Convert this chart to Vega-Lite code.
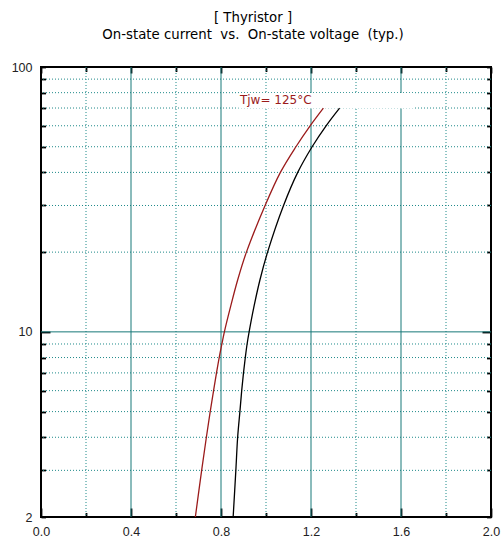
{
  "$schema": "https://vega.github.io/schema/vega-lite/v6.json",
  "autosize": {"type": "none"},
  "padding": {"left": 41, "top": 67, "right": 11, "bottom": 23},
  "width": 450,
  "height": 450,
  "background": "white",
  "config": {
    "font": "Liberation Sans",
    "view": {"stroke": "black", "strokeWidth": 2},
    "axis": {"domain": false, "grid": false, "labelFont": "Liberation Sans", "labelFontSize": 12.5, "labelColor": "#222222", "tickColor": "black", "tickWidth": 1.8}
  },
  "title": {
    "text": ["\u00a0\u00a0\u00a0\u00a0\u00a0\u00a0\u00a0\u00a0[ Thyristor ]", "On-state current \u00a0vs. \u00a0On-state voltage \u00a0(typ.)"],
    "fontSize": 13.3,
    "fontWeight": "normal",
    "font": "DejaVu Sans",
    "color": "black",
    "lineHeight": 17,
    "anchor": "middle",
    "dx": -13,
    "offset": 20
  },
  "datasets": {
    "curves": [
      {"T": "125", "V": 0.686, "I": 2},
      {"T": "125", "V": 0.714, "I": 3},
      {"T": "125", "V": 0.735, "I": 4},
      {"T": "125", "V": 0.752, "I": 5},
      {"T": "125", "V": 0.767, "I": 6},
      {"T": "125", "V": 0.780, "I": 7},
      {"T": "125", "V": 0.792, "I": 8},
      {"T": "125", "V": 0.804, "I": 9},
      {"T": "125", "V": 0.815, "I": 10},
      {"T": "125", "V": 0.842, "I": 12.4},
      {"T": "125", "V": 0.874, "I": 15.7},
      {"T": "125", "V": 0.913, "I": 20},
      {"T": "125", "V": 0.996, "I": 30},
      {"T": "125", "V": 1.064, "I": 40},
      {"T": "125", "V": 1.133, "I": 50},
      {"T": "125", "V": 1.196, "I": 60},
      {"T": "125", "V": 1.255, "I": 70},
      {"T": "25", "V": 0.854, "I": 2},
      {"T": "25", "V": 0.866, "I": 3},
      {"T": "25", "V": 0.874, "I": 4},
      {"T": "25", "V": 0.884, "I": 5},
      {"T": "25", "V": 0.892, "I": 6},
      {"T": "25", "V": 0.900, "I": 7},
      {"T": "25", "V": 0.908, "I": 8},
      {"T": "25", "V": 0.916, "I": 9},
      {"T": "25", "V": 0.925, "I": 10},
      {"T": "25", "V": 0.946, "I": 12.4},
      {"T": "25", "V": 0.973, "I": 15.7},
      {"T": "25", "V": 1.007, "I": 20},
      {"T": "25", "V": 1.078, "I": 30},
      {"T": "25", "V": 1.141, "I": 40},
      {"T": "25", "V": 1.205, "I": 50},
      {"T": "25", "V": 1.267, "I": 60},
      {"T": "25", "V": 1.327, "I": 70}
    ]
  },
  "resolve": {"axis": {"x": "independent", "y": "independent"}},
  "layer": [
    {
      "data": {"values": [{"v": 0.2}, {"v": 0.6}, {"v": 1.0}, {"v": 1.4}, {"v": 1.8}]},
      "mark": {"type": "rule", "color": "#1f8a8a", "strokeWidth": 1, "strokeDash": [1, 2]},
      "encoding": {
        "x": {"field": "v", "type": "quantitative", "scale": {"domain": [0, 2], "nice": false, "zero": false},
          "axis": {"orient": "bottom", "title": null,
            "values": [0, 0.2, 0.4, 0.6, 0.8, 1.0, 1.2, 1.4, 1.6, 1.8, 2.0],
            "format": ".1f",
            "labelExpr": "round(datum.value*10) % 4 == 0 ? datum.label : ''",
            "labelPadding": 17,
            "labelFlush": false,
            "labelOverlap": false,
            "tickSize": {"condition": {"test": "round(datum.value*10) % 4 == 0", "value": -9}, "value": -4.5}}}
      }
    },
    {
      "data": {"values": [{"v": 3}, {"v": 4}, {"v": 5}, {"v": 6}, {"v": 7}, {"v": 8}, {"v": 9}, {"v": 20}, {"v": 30}, {"v": 40}, {"v": 50}, {"v": 60}, {"v": 70}, {"v": 80}, {"v": 90}]},
      "mark": {"type": "rule", "color": "#1f8a8a", "strokeWidth": 1, "strokeDash": [1, 2]},
      "encoding": {
        "y": {"field": "v", "type": "quantitative", "scale": {"type": "log", "domain": [2, 100], "nice": false},
          "axis": {"orient": "left", "title": null,
            "values": [2, 3, 4, 5, 6, 7, 8, 9, 10, 20, 30, 40, 50, 60, 70, 80, 90, 100],
            "labelExpr": "(datum.value == 2 || datum.value == 10 || datum.value == 100) ? datum.value + '' : ''",
            "labelPadding": {"condition": {"test": "datum.value == 10", "value": 18}, "value": 13.5},
            "labelFlush": false,
            "labelOverlap": false,
            "tickSize": {"condition": {"test": "datum.value == 10", "value": -9}, "value": -4.5}}}
      }
    },
    {
      "data": {"values": [{"v": 0.4}, {"v": 0.8}, {"v": 1.2}, {"v": 1.6}]},
      "mark": {"type": "rule", "color": "#167878", "strokeWidth": 1},
      "encoding": {
        "x": {"field": "v", "type": "quantitative", "axis": null}
      }
    },
    {
      "data": {"values": [{"v": 10}]},
      "mark": {"type": "rule", "color": "#167878", "strokeWidth": 1},
      "encoding": {
        "y": {"field": "v", "type": "quantitative", "axis": null}
      }
    },
    {
      "data": {"values": [{"x1": 0.878, "x2": 1.662, "y1": 69.7, "y2": 79.8}]},
      "mark": {"type": "rect", "fill": "white", "stroke": null},
      "encoding": {
        "x": {"field": "x1", "type": "quantitative", "axis": null},
        "x2": {"field": "x2"},
        "y": {"field": "y1", "type": "quantitative", "axis": null},
        "y2": {"field": "y2"}
      }
    },
    {
      "data": {"name": "curves"},
      "mark": {"type": "line", "strokeWidth": 1.3, "interpolate": "catmull-rom"},
      "encoding": {
        "x": {"field": "V", "type": "quantitative",
          "axis": {"orient": "top", "title": null, "labels": false,
            "values": [0, 0.2, 0.4, 0.6, 0.8, 1.0, 1.2, 1.4, 1.6, 1.8, 2.0],
            "tickSize": {"condition": {"test": "round(datum.value*10) % 4 == 0", "value": -6}, "value": -4.5}}},
        "y": {"field": "I", "type": "quantitative",
          "axis": {"orient": "right", "title": null, "labels": false,
            "values": [2, 3, 4, 5, 6, 7, 8, 9, 10, 20, 30, 40, 50, 60, 70, 80, 90, 100],
            "tickSize": {"condition": {"test": "datum.value == 10", "value": -9}, "value": -4.5}}},
        "color": {"field": "T", "type": "nominal",
          "scale": {"domain": ["125", "25"], "range": ["#9b1b1b", "#000000"]},
          "legend": null},
        "order": {"field": "I", "type": "quantitative"}
      }
    },
    {
      "data": {"values": [{"x": 0.884, "y": 72.5, "label": "Tjw= 125°C"}]},
      "mark": {"type": "text", "align": "left", "baseline": "alphabetic", "fontSize": 12, "font": "DejaVu Sans", "color": "#9b1b1b"},
      "encoding": {
        "x": {"field": "x", "type": "quantitative", "axis": null},
        "y": {"field": "y", "type": "quantitative", "axis": null},
        "text": {"field": "label"}
      }
    }
  ]
}
